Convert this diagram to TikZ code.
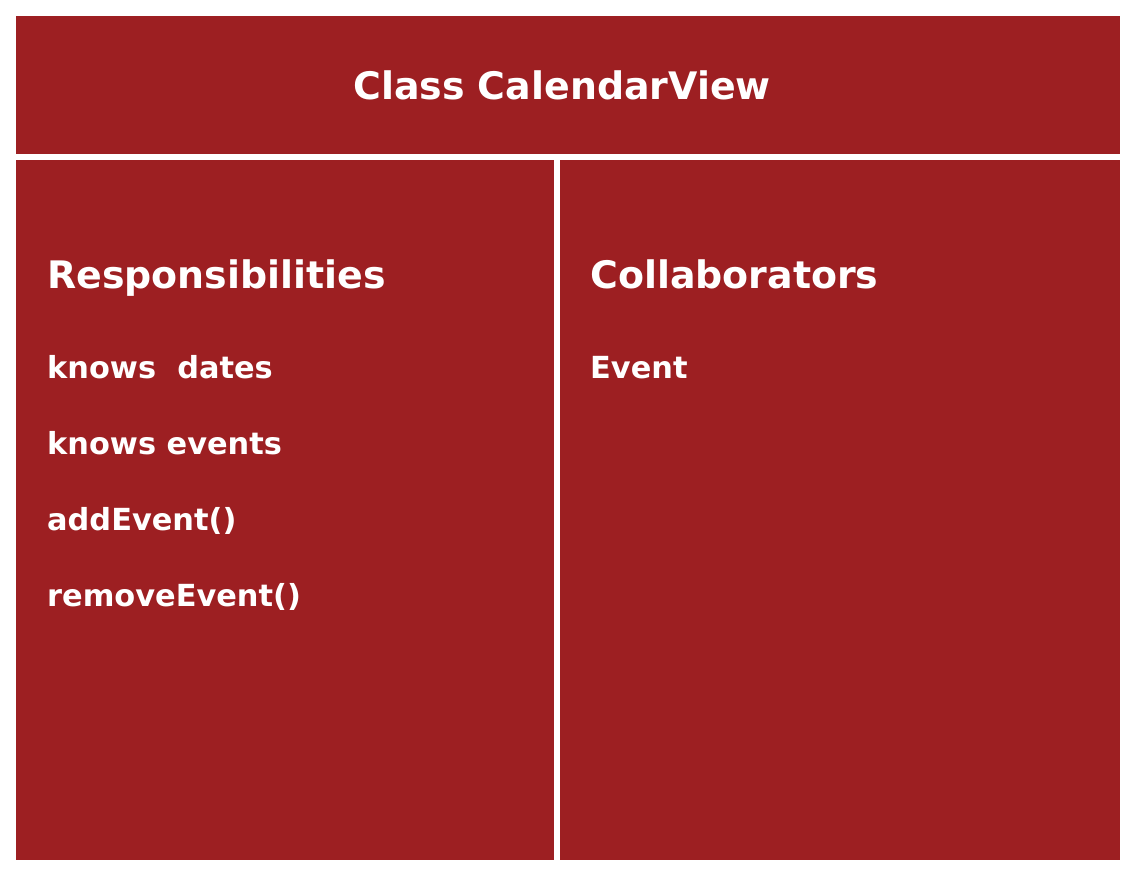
\documentclass[tikz,border=0pt]{standalone}
\usepackage{fontspec}
\setmainfont{DejaVu Sans}
\definecolor{cardred}{RGB}{157,31,34}
\begin{document}
\begin{tikzpicture}[x=1pt,y=-1pt,
  panel/.style={fill=cardred,draw=none},
  heading/.style={anchor=base west,inner sep=0pt,text=white,font=\fontsize{37.9}{42}\selectfont\bfseries},
  item/.style={anchor=base west,inner sep=0pt,text=white,font=\fontsize{30.4}{35}\selectfont\bfseries}]
  \useasboundingbox[fill=white] (0,0) rectangle (1138,880);
  % CRC card panels
  \path[panel] (16,16) rectangle (1120,154);
  \path[panel] (16,160) rectangle (554,860);
  \path[panel] (560,160) rectangle (1120,860);
  % title
  \node[heading,anchor=base] (title) at (562,100) {Class CalendarView};
  % responsibilities column
  \node[heading] (resp) at (47,288) {Responsibilities};
  \node[item] (r1) at (47,378) {knows\ \ dates};
  \node[item] (r2) at (47,454) {knows events};
  \node[item] (r3) at (47,530) {addEvent()};
  \node[item] (r4) at (47,606) {removeEvent()};
  % collaborators column
  \node[heading] (coll) at (590,288) {Collaborators};
  \node[item] (c1) at (590,378) {Event};
\end{tikzpicture}
\end{document}
